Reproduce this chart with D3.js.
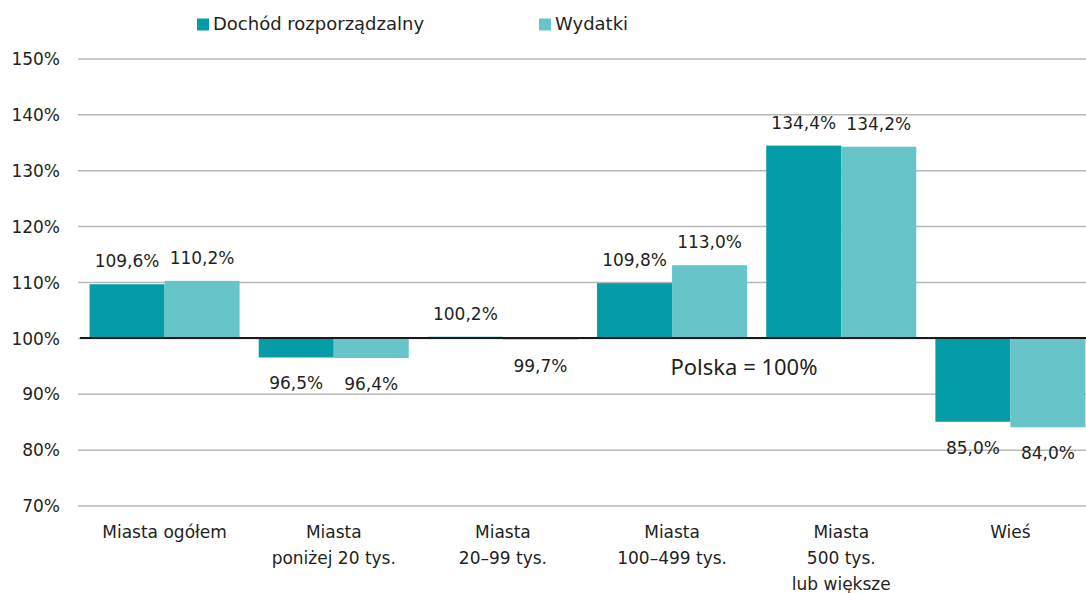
<!DOCTYPE html>
<html>
<head>
<meta charset="utf-8">
<script src="https://cdn.jsdelivr.net/npm/d3@7"></script>
<style>
  body { margin: 0; background: #fff; }
  text { font-family: "DejaVu Sans", sans-serif; fill: #231f20; }
</style>
</head>
<body>
<div id="chart"></div>
<script>
// data
var categories = ["Miasta ogółem", "Miasta\nponiżej 20 tys.", "Miasta\n20–99 tys.", "Miasta\n100–499 tys.", "Miasta\n500 tys.\nlub większe", "Wieś"];
var seriesNames = ["Dochód rozporządzalny", "Wydatki"];
var dochod = [109.6, 96.5, 100.2, 109.8, 134.4, 85.0];
var wydatki = [110.2, 96.4, 99.7, 113.0, 134.2, 84.0];
var yTicks = [70, 80, 90, 100, 110, 120, 130, 140, 150];
var colors = ["#049ca6", "#67c4c9"];

var W = 1086, H = 593;
var svg = d3.select("#chart").append("svg")
    .attr("width", W)
    .attr("height", H);

var fmt = function(v){ return v.toFixed(1).replace(".", ",") + "%"; };

// scales
var y = d3.scaleLinear().domain([70, 150]).range([505.6, 58.4]);
var x = d3.scaleBand()
    .domain(categories)
    .range([80, 1095])
    .paddingInner(0.113)
    .paddingOuter(0.0565);
var xSub = d3.scaleBand()
    .domain(seriesNames)
    .range([0, x.bandwidth()]);

// y axis with gridlines
var yAxis = svg.append("g")
    .attr("transform", "translate(78,0)")
    .call(d3.axisLeft(y).tickValues(yTicks).tickFormat(function(d){ return d + "%"; })
        .tickSize(-(W - 78)).tickPadding(18));
yAxis.select(".domain").remove();
yAxis.selectAll(".tick line").attr("stroke", "#b8b8b8").attr("stroke-width", 1.5);
yAxis.selectAll(".tick text").attr("font-size", 17).attr("dy", "0.36em")
    .style("font-family", "DejaVu Sans").attr("fill", "#231f20");

// bars
var rows = categories.map(function(c, i){
    return {cat: c, vals: [{key: seriesNames[0], v: dochod[i], c: 0}, {key: seriesNames[1], v: wydatki[i], c: 1}]};
});

var groups = svg.append("g").selectAll("g")
    .data(rows)
    .enter().append("g")
    .attr("transform", function(d){ return "translate(" + x(d.cat) + ",0)"; });

groups.selectAll("rect")
    .data(function(d){ return d.vals; })
    .enter().append("rect")
    .attr("x", function(d){ return xSub(d.key); })
    .attr("y", function(d){ return Math.min(y(d.v), y(100)); })
    .attr("width", xSub.bandwidth())
    .attr("height", function(d){ return Math.abs(y(d.v) - y(100)); })
    .attr("fill", function(d){ return colors[d.c]; });

groups.selectAll("text.val")
    .data(function(d){ return d.vals; })
    .enter().append("text")
    .attr("class", "val")
    .attr("x", function(d){ return xSub(d.key) + xSub.bandwidth() / 2; })
    .attr("y", function(d){ return d.v >= 100 ? y(d.v) - 17 : y(d.v) + 32; })
    .attr("text-anchor", "middle")
    .attr("font-size", 17)
    .text(function(d){ return fmt(d.v); });

// baseline at 100%
svg.append("line")
    .attr("x1", 80).attr("x2", W)
    .attr("y1", y(100)).attr("y2", y(100))
    .attr("stroke", "#1a1a1a").attr("stroke-width", 2);

// x axis labels
var xAxis = svg.append("g")
    .attr("transform", "translate(0," + y(70) + ")")
    .call(d3.axisBottom(x).tickSize(0).tickFormat(""));
xAxis.select(".domain").remove();
xAxis.selectAll(".tick").each(function(d){
    var t = d3.select(this).append("text")
        .attr("text-anchor", "middle")
        .attr("font-size", 17)
        .attr("y", 32);
    d.split("\n").forEach(function(line, i){
        t.append("tspan").attr("x", 0).attr("dy", i === 0 ? 0 : 26).text(line);
    });
});

// annotation
svg.append("text")
    .attr("x", 744).attr("y", 375)
    .attr("text-anchor", "middle")
    .attr("font-size", 22)
    .style("font-family", "Noto Sans")
    .text("Polska = 100%");

// legend
var legend = svg.append("g");
var legX = [197, 539];
seriesNames.forEach(function(name, i){
    legend.append("rect")
        .attr("x", legX[i]).attr("y", 18.5)
        .attr("width", 12).attr("height", 12)
        .attr("fill", colors[i]);
    legend.append("text")
        .attr("x", legX[i] + 16).attr("y", 30)
        .attr("font-size", 18)
        .text(name);
});
</script>
</body>
</html>
